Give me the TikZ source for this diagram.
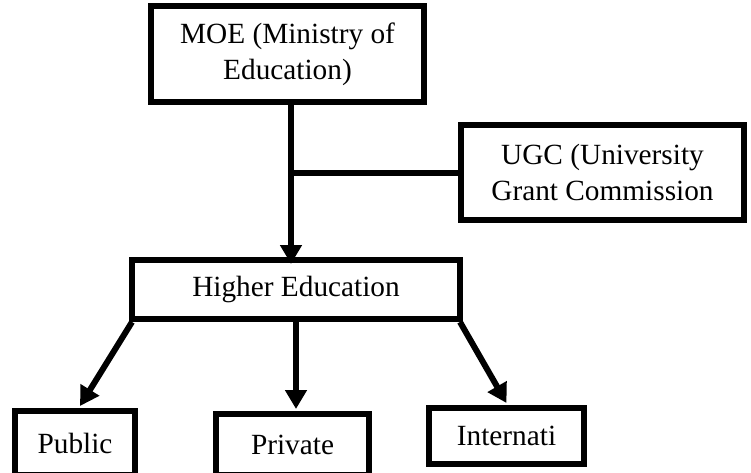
\documentclass[tikz,border=0pt]{standalone}
\usepackage{fontspec}
\setmainfont{Liberation Serif}
\usetikzlibrary{arrows.meta}
\begin{document}
\begin{tikzpicture}[x=1pt,y=-1pt,
  box/.style={draw=black, line width=6pt, fill=white, inner sep=0pt, align=center,
    font=\fontsize{29.3}{36}\selectfont},
  link/.style={line width=6pt, draw=black},
  arr/.style={link, -{Triangle[width=21pt,length=19pt]}}]
\useasboundingbox (0,0) rectangle (751,473);
\clip (0,0) rectangle (751,473);
\fill[white] (0,0) rectangle (751,473);

\node[box, minimum width=273pt, minimum height=96pt] (moe) at (287.5,54) {MOE (Ministry of\\Education)};
\node[box, minimum width=283pt, minimum height=95pt] (ugc) at (602.5,172.5) {UGC (University\\Grant Commission};
\node[box, minimum width=328pt, minimum height=59pt] (he) at (296,289.5) {Higher Education};
\node[box, minimum width=120pt, minimum height=64pt] (pub) at (75,443) {Public};
\node[box, minimum width=153pt, minimum height=61pt] (priv) at (292.5,444.5) {Private};
\node[box, minimum width=155pt, minimum height=56pt] (intl) at (506.5,436) {Internati};

\coordinate (j) at (291,173);
\draw[link] (ugc.west) -- (ugc.west -| j);
\draw[arr] (j |- moe.south) -- ([yshift=-7pt]j |- he.north);
\draw[arr] ([xshift=3pt]he.south west) -- ([xshift=5pt,yshift=2pt]pub.north);
\draw[arr] (he.south) -- ([yshift=2pt]he.south |- priv.north);
\draw[arr] ([xshift=-3pt]he.south east) -- ([yshift=2pt]intl.north);
\end{tikzpicture}
\end{document}
